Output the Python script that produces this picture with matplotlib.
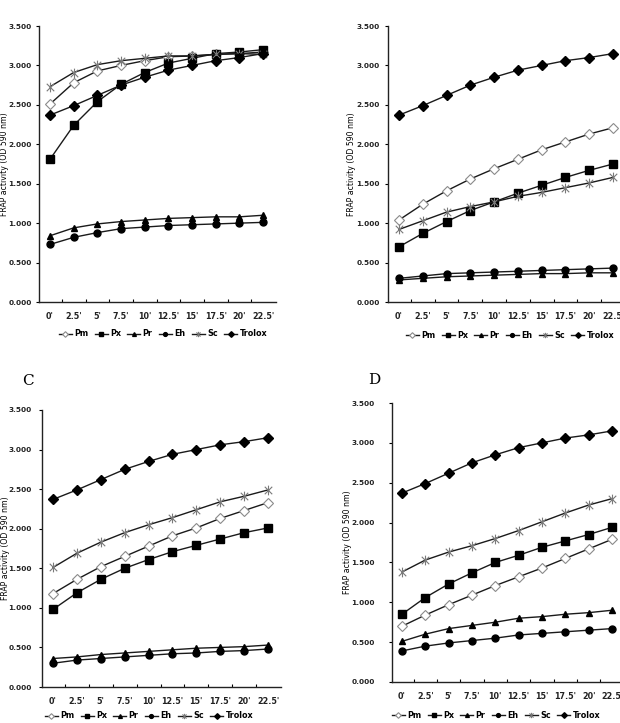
import numpy as np
import matplotlib.pyplot as plt
from matplotlib.path import Path

# time points (min) and the six samples
times = ["0'", "2.5'", "5'", "7.5'", "10'", "12.5'", "15'", "17.5'", "20'", "22.5'"]
names = ['Pm', 'Px', 'Pr', 'Eh', 'Sc', 'Trolox']

trolox = [2.37, 2.49, 2.62, 2.75, 2.85, 2.94, 3.00, 3.06, 3.10, 3.15]

# panel A
a_pm = [2.51, 2.78, 2.93, 3.00, 3.06, 3.11, 3.12, 3.14, 3.15, 3.17]
a_px = [1.81, 2.24, 2.54, 2.76, 2.91, 3.03, 3.09, 3.15, 3.17, 3.20]
a_pr = [0.84, 0.94, 0.99, 1.02, 1.04, 1.06, 1.07, 1.08, 1.08, 1.10]
a_eh = [0.73, 0.82, 0.88, 0.93, 0.95, 0.97, 0.98, 0.99, 1.00, 1.01]
a_sc = [2.73, 2.91, 3.01, 3.06, 3.09, 3.12, 3.12, 3.14, 3.15, 3.14]

# panel B
b_pm = [1.04, 1.24, 1.41, 1.56, 1.69, 1.81, 1.93, 2.03, 2.13, 2.21]
b_px = [0.70, 0.87, 1.02, 1.16, 1.27, 1.38, 1.48, 1.58, 1.67, 1.75]
b_pr = [0.28, 0.30, 0.32, 0.33, 0.34, 0.35, 0.36, 0.36, 0.37, 0.37]
b_eh = [0.30, 0.33, 0.36, 0.37, 0.38, 0.39, 0.40, 0.41, 0.42, 0.43]
b_sc = [0.92, 1.03, 1.14, 1.21, 1.27, 1.34, 1.39, 1.45, 1.51, 1.58]

# panel C
c_pm = [1.18, 1.36, 1.52, 1.65, 1.78, 1.91, 2.01, 2.13, 2.23, 2.33]
c_px = [0.98, 1.19, 1.36, 1.50, 1.61, 1.71, 1.79, 1.87, 1.95, 2.01]
c_pr = [0.36, 0.38, 0.41, 0.43, 0.45, 0.47, 0.49, 0.50, 0.51, 0.53]
c_eh = [0.30, 0.34, 0.36, 0.38, 0.40, 0.42, 0.43, 0.45, 0.46, 0.48]
c_sc = [1.51, 1.69, 1.83, 1.95, 2.05, 2.14, 2.24, 2.34, 2.41, 2.49]

# panel D
d_pm = [0.70, 0.84, 0.97, 1.09, 1.21, 1.32, 1.43, 1.55, 1.67, 1.79]
d_px = [0.85, 1.06, 1.23, 1.37, 1.50, 1.59, 1.69, 1.77, 1.85, 1.94]
d_pr = [0.51, 0.60, 0.67, 0.71, 0.75, 0.80, 0.82, 0.85, 0.87, 0.90]
d_eh = [0.39, 0.45, 0.49, 0.52, 0.55, 0.59, 0.61, 0.63, 0.65, 0.67]
d_sc = [1.38, 1.53, 1.63, 1.71, 1.80, 1.90, 2.01, 2.12, 2.22, 2.30]

panels = [
    ('A', [a_pm, a_px, a_pr, a_eh, a_sc, trolox]),
    ('B', [b_pm, b_px, b_pr, b_eh, b_sc, trolox]),
    ('C', [c_pm, c_px, c_pr, c_eh, c_sc, trolox]),
    ('D', [d_pm, d_px, d_pr, d_eh, d_sc, trolox]),
]

W, H = 620, 723
# layout in pixels: left, top, x of first point, x of last point, bottom,
# y-tick label pad (pt), y-label right edge, legend centre x, legend centre y
boxes = {
    'A': (39, 26, 50, 263, 302, 2.9, 9, 163, 334),
    'B': (388, 26, 399, 613, 302, 3.6, 356, 510, 335),
    'C': (42, 410, 53, 268, 687, 5.0, 10, 149, 716),
    'D': (392, 403, 402, 612, 682, 10.0, 352, 496, 715),
}
letters = {'A': (13, -5), 'B': (368, -5), 'C': (22, 381), 'D': (368, 380)}

# asterisk marker used for Sc
star = Path([(-1, -1), (1, 1), (-1, 1), (1, -1), (0, -1.3), (0, 1.3)],
            [Path.MOVETO, Path.LINETO, Path.MOVETO, Path.LINETO, Path.MOVETO, Path.LINETO])

styles = [
    dict(marker='D', ms=5.2, mfc='white', mec='#8a8a8a', mew=0.8),
    dict(marker='s', ms=6.0, mfc='black', mec='black'),
    dict(marker='^', ms=5.0, mfc='black', mec='black'),
    dict(marker='o', ms=5.0, mfc='black', mec='black'),
    dict(marker=star, ms=7.0, mfc='none', mec='#7a7a7a', mew=0.8),
    dict(marker='D', ms=5.2, mfc='black', mec='black'),
]

fig = plt.figure(figsize=(W / 100, H / 100), dpi=100)
x = np.arange(len(times))
yt = np.arange(0, 3.51, 0.5)

for key, series in panels:
    left, top, x0, x9, bottom, ypad, ylab_x, leg_x, leg_y = boxes[key]
    step = (x9 - x0) / 9
    xmin, xmax = -(x0 - left) / step, 9.55
    right = x0 + xmax * step
    ax = fig.add_axes([left / W, 1 - bottom / H, (right - left) / W, (bottom - top) / H])

    for vals, name, st in zip(series, names, styles):
        ax.plot(x, vals, color='#1a1a1a', lw=1.0, label=name, **st)

    ax.set_xlim(xmin, xmax)
    ax.set_ylim(0, 3.5)
    ax.set_yticks(yt)
    ax.set_yticklabels(['%.3f' % v for v in yt], fontsize=5.3, fontweight='bold', color='#222222')
    ax.set_xticks(x)
    ax.set_xticklabels(times, fontsize=5.8, fontweight='bold', color='#222222')
    ax.set_xticks(x[:-1] + 0.5, minor=True)
    ax.tick_params(axis='x', which='major', length=0, pad=7)
    ax.tick_params(axis='x', which='minor', length=2.5, direction='in', width=0.8)
    ax.tick_params(axis='y', length=2.2, width=0.8, pad=ypad)
    for s in ['top', 'right']:
        ax.spines[s].set_visible(False)
    for s in ['left', 'bottom']:
        ax.spines[s].set_linewidth(1.0)
        ax.spines[s].set_color('#222222')
    ax.set_ylabel('FRAP activity (OD 590 nm)', fontsize=5.6)
    ax.yaxis.set_label_coords((ylab_x - left) / (right - left), 0.5)

    leg = ax.legend(loc='center', bbox_to_anchor=(leg_x / W, 1 - leg_y / H),
                    bbox_transform=fig.transFigure, ncol=6, frameon=False,
                    fontsize=5.8, handlelength=1.6, handletextpad=0.3,
                    columnspacing=0.8, markerscale=0.55)
    for t in leg.get_texts():
        t.set_fontweight('bold')

    lx, ly = letters[key]
    fig.text(lx / W, 1 - ly / H, key, fontsize=11, family='DejaVu Serif',
             va='center', ha='left')

fig.savefig('out.png', dpi=100, facecolor='white')
